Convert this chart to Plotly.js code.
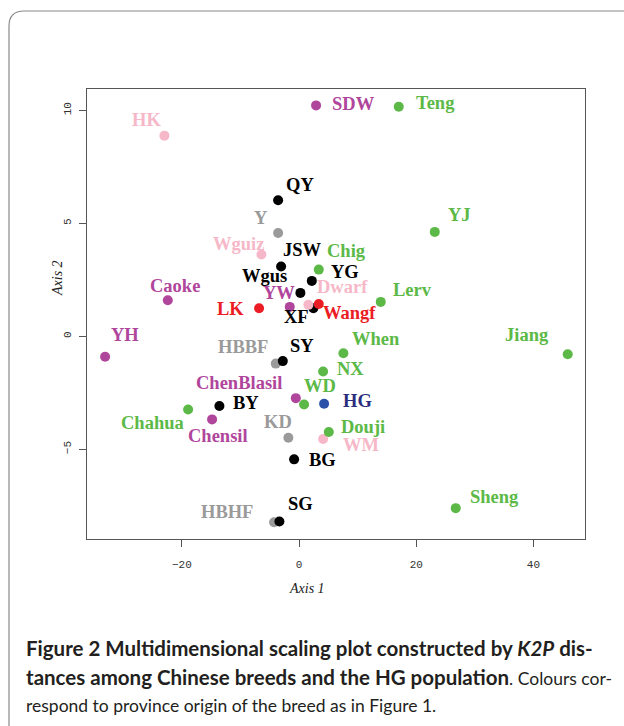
<!DOCTYPE html>
<html>
<head>
<meta charset="utf-8">
<script src="https://cdn.plot.ly/plotly-3.0.1.min.js"></script>
<style>
  html, body { margin: 0; padding: 0; background: #fff; }
  #chart { width: 624px; height: 726px; }
</style>
</head>
<body>
<div id="chart"></div>
<script>
// ---- Data ----
const breeds = ["HK","SDW","Teng","QY","Y","YJ","Wguiz","JSW","Chig","YG","Wgus","Caoke","Lerv","Dwarf","Wangf","YW","XF","LK","YH","Jiang","When","SY","HBBF","NX","ChenBlasil","WD","HG","BY","Chahua","Chensil","Douji","KD","WM","BG","Sheng","SG","HBHF"];
const axis1 = [-22.99, 2.90, 17.01, -3.58, -3.58, 23.16, -6.43, -3.07, 3.36, 2.17, 0.22, -22.41, 13.94, 1.59, 3.36, -1.59, 2.44, -6.83, -33.11, 45.85, 7.56, -2.78, -3.98, 4.10, -0.56, 0.85, 4.27, -13.60, -18.94, -14.85, 5.07, -1.83, 4.10, -0.85, 26.74, -3.36, -4.27];
const axis2 = [8.88, 10.22, 10.16, 6.02, 4.57, 4.62, 3.62, 3.09, 2.95, 2.45, 1.92, 1.59, 1.52, 1.39, 1.43, 1.30, 1.24, 1.24, -0.91, -0.80, -0.75, -1.10, -1.21, -1.56, -2.74, -3.02, -2.99, -3.09, -3.24, -3.68, -4.24, -4.49, -4.55, -5.45, -7.61, -8.20, -8.23];
const province = ["pink","purple","green","black","gray","green","pink","black","green","black","black","purple","green","pink","red","purple","black","red","purple","green","green","black","gray","green","purple","green","blue","black","green","purple","green","gray","pink","black","green","black","gray"];
const xTicks = [-20, 0, 20, 40];
const yTicks = [-5, 0, 5, 10];

// ---- Styles ----
const dotColor = {green:"#5cb947", purple:"#b0469c", pink:"#f6b8c8", gray:"#9a9a9a", black:"#000000", red:"#ec1c24", blue:"#2a50a8"};
const textColor = {green:"#5cb947", purple:"#b0469c", pink:"#f6b8c8", gray:"#9a9a9a", black:"#000000", red:"#ec1c24", blue:"#2b2e7e"};
// label offsets from the dot, in pixels [right, down]
const labelOffset = {
  HK:[-18,-16], SDW:[37,-1], Teng:[37,-4], QY:[22,-15], Y:[-17,-15], YJ:[25,-17],
  Wguiz:[-23,-10], JSW:[21,-16], Chig:[28,-19], YG:[33,-9], Wgus:[-36,-17], Caoke:[7,-14],
  Lerv:[32,-12], Dwarf:[34,-18], Wangf:[31,9], YW:[-11,-14], XF:[-17,9], LK:[-29,1],
  YH:[20,-22], Jiang:[-41,-19], When:[33,-14], SY:[19,-15], HBBF:[-33,-17], NX:[27,-2],
  ChenBlasil:[-57,-15], WD:[16,-18], HG:[33,-3], BY:[27,-3], Chahua:[-36,14], Chensil:[6,17],
  Douji:[34,-5], KD:[-10,-16], WM:[38,6], BG:[28,1], Sheng:[39,-11], SG:[21,-17], HBHF:[-47,-10]
};

const W = 624, H = 726;
const M = {l: 87, r: 39, t: 89, b: 187};
const pw = W - M.l - M.r, ph = H - M.t - M.b;
const px2x = p => (p - M.l) / pw;
const py2y = p => 1 - (p - M.t) / ph;

// ---- Traces: one per province colour ----
const groups = ["gray","black","pink","purple","green","red","blue"];
const traces = groups.map(g => {
  const idx = province.map((p, i) => p === g ? i : -1).filter(i => i >= 0);
  return {
    type: "scatter", mode: "markers", name: g,
    x: idx.map(i => axis1[i]), y: idx.map(i => axis2[i]),
    text: idx.map(i => breeds[i]),
    marker: {size: 10, color: dotColor[g], line: {width: 0}},
    hoverinfo: "text"
  };
});

// ---- Labels ----
const annotations = breeds.map((b, i) => ({
  x: axis1[i], y: axis2[i], xref: "x", yref: "y",
  text: b, showarrow: false,
  xanchor: "center", yanchor: "middle",
  xshift: labelOffset[b][0], yshift: -labelOffset[b][1],
  font: {family: "Liberation Serif, Times New Roman, serif", size: 18.5, color: textColor[province[i]], weight: "bold"}
}));

// axis titles
annotations.push({
  xref: "paper", yref: "paper", x: px2x(307), y: py2y(588),
  text: "<i>Axis 1</i>", showarrow: false, xanchor: "center", yanchor: "middle",
  font: {family: "Liberation Serif, serif", size: 14, color: "#222"}
});
annotations.push({
  xref: "paper", yref: "paper", x: px2x(57), y: py2y(278),
  text: "<i>Axis 2</i>", showarrow: false, xanchor: "center", yanchor: "middle", textangle: -90,
  font: {family: "Liberation Serif, serif", size: 14, color: "#222"}
});

// caption
const reg = s => "<span style=\"font-size:17.5px\">" + s + "</span>";
const captionLines = [
  "<b>Figure 2 Multidimensional scaling plot constructed by <i>K2P</i> dis-</b>",
  "<b>tances among Chinese breeds and the HG population</b>" + reg(". Colours cor-"),
  reg("respond to province origin of the breed as in Figure 1.")
];
const captionY = [648, 677, 705];
captionLines.forEach((t, k) => annotations.push({
  xref: "paper", yref: "paper", x: px2x(24), y: py2y(captionY[k]),
  text: t, showarrow: false, xanchor: "left", yanchor: "middle",
  font: {family: "Lato, Open Sans, sans-serif", size: 20.5, color: "#231f20"}
}));

// rounded frame of the figure panel
const fx0 = 9, fy0 = 11, fx1 = 660, fy1 = 740, r = 15;
const P = (x, y) => px2x(x) + "," + py2y(y);
const framePath = "M" + P(fx0, fy0 + r) + " Q" + P(fx0, fy0) + " " + P(fx0 + r, fy0) +
  " L" + P(fx1, fy0) + " L" + P(fx1, fy1) + " L" + P(fx0, fy1) + " Z";

const axisCommon = {
  showgrid: false, zeroline: false,
  showline: true, mirror: true, linecolor: "#555", linewidth: 1.2,
  ticks: "outside", ticklen: 7, tickwidth: 1, tickcolor: "#555",
  tickfont: {family: "Liberation Mono, Courier New, monospace", size: 11, color: "#333"}
};

const layout = {
  width: W, height: H,
  margin: M,
  paper_bgcolor: "#fff", plot_bgcolor: "#fff",
  showlegend: false,
  xaxis: Object.assign({}, axisCommon, {range: [-36.2, 48.8], tickvals: xTicks, ticktext: xTicks.map(v => v < 0 ? "\u2212" + Math.abs(v) : String(v)), ticklabelstandoff: 8}),
  yaxis: Object.assign({}, axisCommon, {range: [-8.975, 10.945], tickvals: yTicks, ticktext: yTicks.map(v => v < 0 ? "\u2212" + Math.abs(v) : String(v)), tickangle: -90, ticklabelstandoff: 3}),
  annotations: annotations,
  shapes: [{type: "path", xref: "paper", yref: "paper", path: framePath, line: {color: "#8a8a8a", width: 1.2}, layer: "below"}]
};

Plotly.newPlot("chart", traces, layout, {displayModeBar: false, staticPlot: true});
</script>
</body>
</html>
